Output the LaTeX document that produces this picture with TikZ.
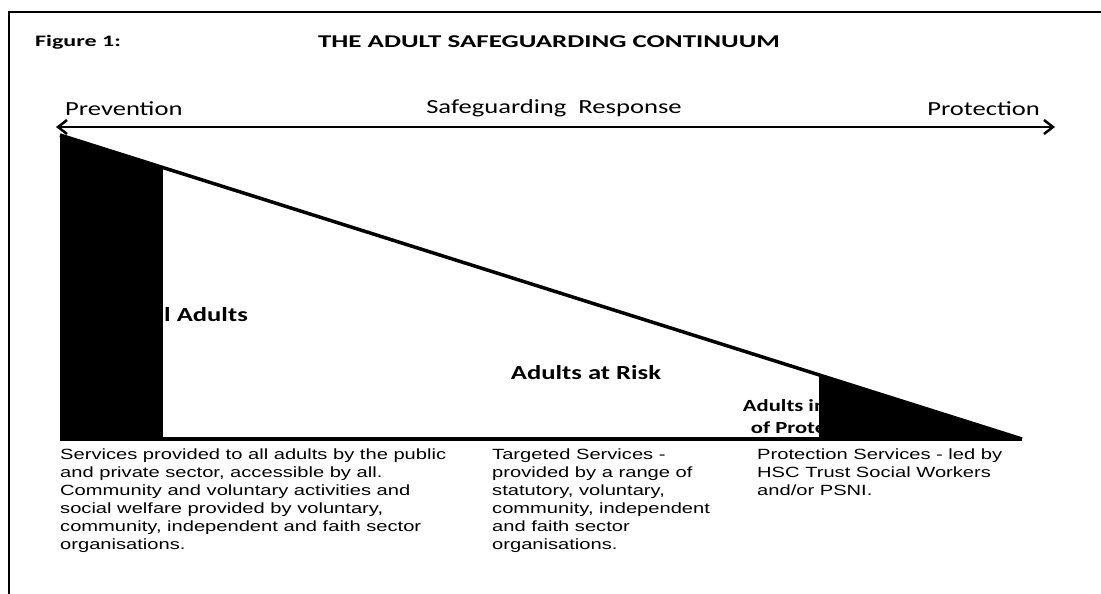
\documentclass[tikz,border=0pt]{standalone}
\usepackage{fontspec}
\setmainfont[FakeStretch=1.36]{Liberation Sans}
\newfontfamily\calfont[FakeStretch=1.33]{Carlito}
\newfontfamily\headfont[FakeStretch=1.5]{Carlito}
\usetikzlibrary{arrows.meta,calc}

\begin{document}
\begin{tikzpicture}[x=1pt,y=-1pt,
  endlabel/.style={font=\calfont\fontsize{20}{24}\selectfont, inner sep=0pt},
  group/.style={font=\calfont\bfseries\fontsize{20}{24}\selectfont, inner sep=0pt},
  smallgroup/.style={font=\calfont\bfseries\fontsize{17}{22}\selectfont, inner sep=0pt, align=center},
  service/.style={font=\fontsize{14.8}{18}\selectfont, align=left, anchor=north west, inner sep=0pt},
  heading/.style={font=\headfont\bfseries\fontsize{16}{19}\selectfont, inner sep=0pt}]

\useasboundingbox (0,0) rectangle (1101,594);

% Frame (top and left edges)
\draw[line width=2pt] (9,594) -- (9,12) -- (1101,12);

% Headings
\node[heading, anchor=west] (fig) at (35,42) {Figure 1:};
\node[heading, font=\headfont\bfseries\fontsize{18}{21}\selectfont] (title) at (549,42) {THE ADULT SAFEGUARDING CONTINUUM};

% Response arrow
\coordinate (L) at (56,127);
\coordinate (R) at (1055,127);
\draw[line width=2.5pt, {Straight Barb[length=9pt,width=14pt]}-{Straight Barb[length=9pt,width=14pt]}] (L) -- (R);

\node[endlabel, anchor=west] (prev) at (65,109) {Prevention};
\node[endlabel] (resp) at (554,108) {Safeguarding\ \ Response};
\node[endlabel, anchor=east] (prot) at (1040,109) {Protection};

% Corners of the triangle
\coordinate (A) at (60,135);
\coordinate (B) at (60,439);
\coordinate (C) at (1022,439);
\coordinate (P) at ($(A)!0.107!(C)$);
\coordinate (Q) at ($(A)!0.789!(C)$);

% Group labels (partly covered by the black parts)
\node[group, anchor=east] (all) at (248,315) {All Adults};
\node[group] (risk) at (586,373) {Adults at Risk};
\node[smallgroup] (need) at (812,417) {Adults in Need\\of Protection};

% Hypotenuse
\draw[line width=3.5pt] (A) -- (C);

% Black part at the prevention end
\fill (A) -- (P) -- (P |- B) -- (B) -- cycle;

% Black part at the protection end
\fill (Q) -- (C) -- (Q |- C) -- cycle;

% Base line
\draw[line width=3.5pt] (B) -- (C);

% Services under each part
\node[service] (s1) at (60,449) {Services provided to all adults by the public\\and private sector, accessible by all.\\Community and voluntary activities and\\social welfare provided by voluntary,\\community, independent and faith sector\\organisations.};
\node[service] (s2) at (492,449) {Targeted Services -\\provided by a range of\\statutory, voluntary,\\community, independent\\and faith sector\\organisations.};
\node[service] (s3) at (757,449) {Protection Services - led by\\HSC Trust Social Workers\\and/or PSNI.};

\end{tikzpicture}
\end{document}
